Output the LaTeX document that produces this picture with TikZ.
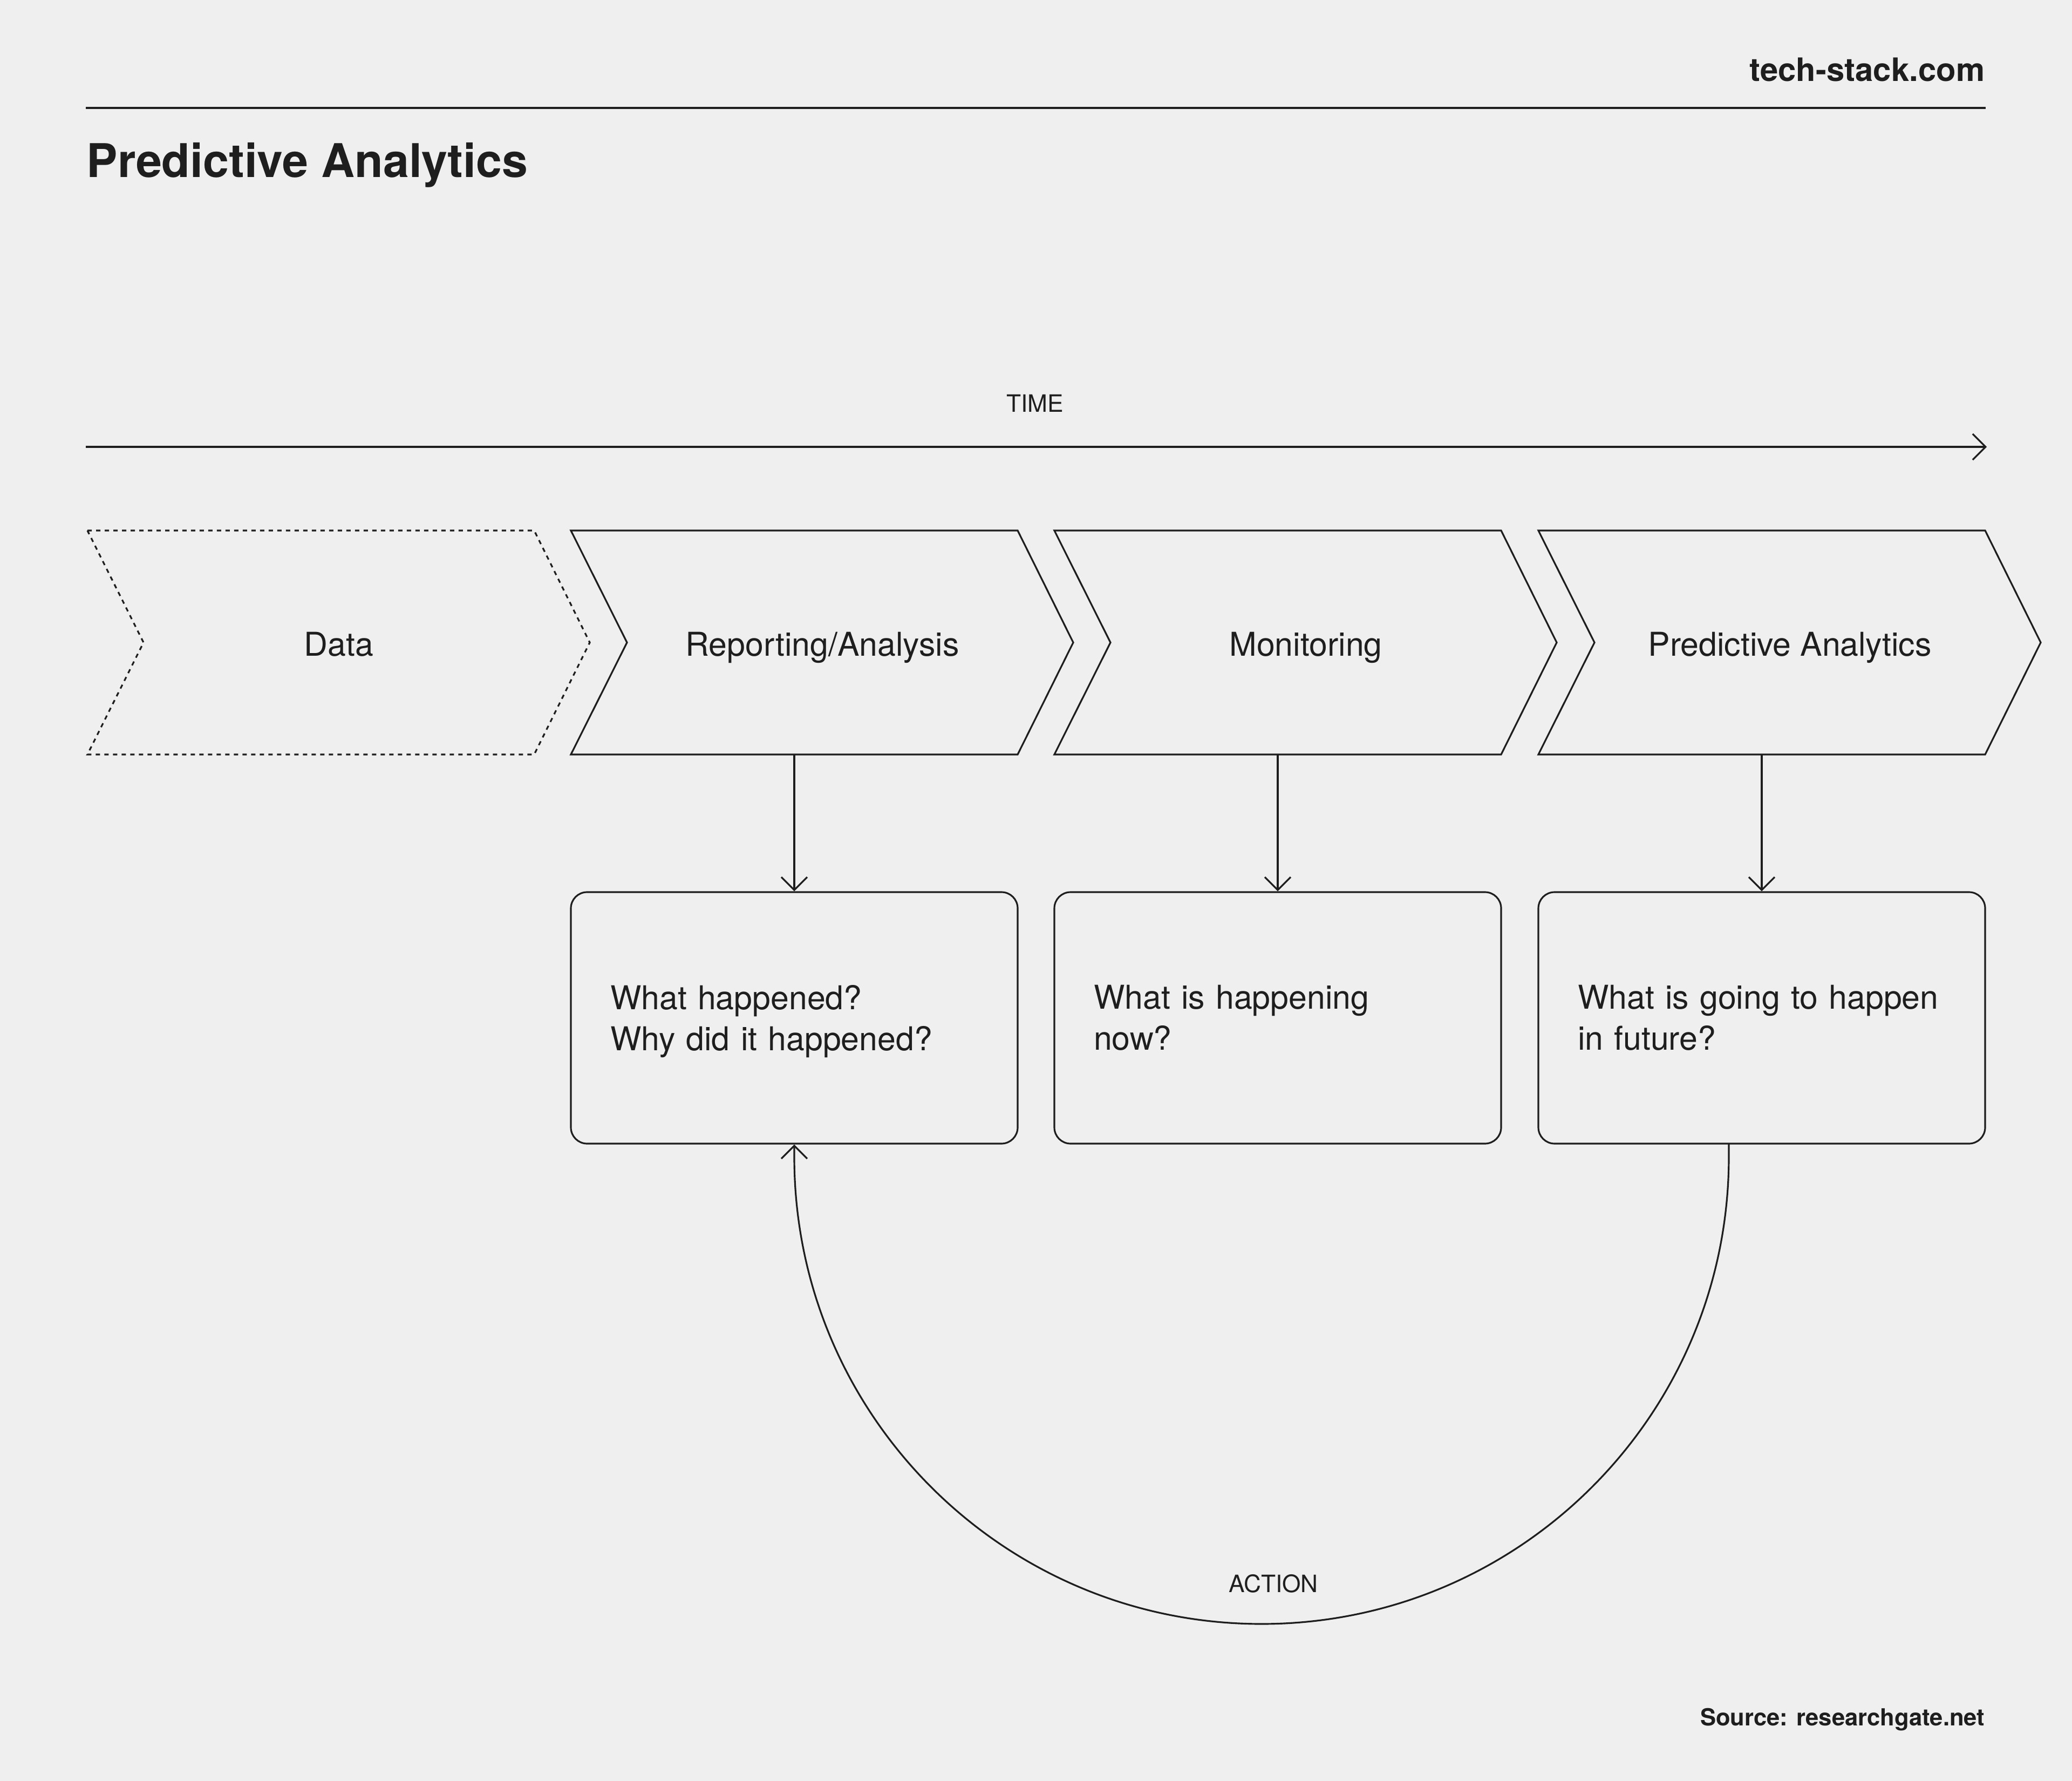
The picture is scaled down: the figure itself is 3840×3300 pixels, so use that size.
\documentclass[tikz,border=0pt]{standalone}
\usepackage{fontspec}
\setmainfont{TeX Gyre Heros}
\usetikzlibrary{arrows.meta}

\definecolor{ink}{RGB}{30,30,30}
\definecolor{paper}{RGB}{239,239,239}

\begin{document}
\begin{tikzpicture}[
    x=0.1mm,
    y=-0.1mm,
    every node/.style={text=ink, inner sep=0pt},
    >={Straight Barb[length=2.4mm,width=4.8mm]},
    rule/.style={draw=ink, line width=1.1pt},
    chev/.style={draw=ink, line width=0.9pt, line join=miter},
    datachev/.style={chev, dash pattern=on 0.8mm off 0.8mm},
    stagelabel/.style={font=\fontsize{17.3}{21.6}\selectfont, anchor=base},
    qbox/.style={draw=ink, line width=0.9pt, rounded corners=3mm,
      minimum width=82.8mm, minimum height=46.6mm, text width=68.2mm,
      inner xsep=7.3mm, align=left, font=\fontsize{17.3}{21.6}\selectfont},
    flow/.style={->, draw=ink, line width=0.9pt},
    tag/.style={font=\fontsize{12.6}{15}\selectfont, anchor=base}
  ]
    \fill[paper] (0,0) rectangle (3840,3300);
    \useasboundingbox (0,0) rectangle (3840,3300);

    % header
    \node[font=\fontsize{17}{20}\selectfont\bfseries, anchor=base east] (site) at (3679,151) {tech-stack.com};
    \coordinate (r0) at (159,200);
    \coordinate (r1) at (3680,200);
    \draw[rule] (r0) -- (r1);
    \node[font=\fontsize{24.5}{28}\selectfont\bfseries, anchor=base west] (title) at (160,329) {Predictive Analytics};

    % time axis
    \node[tag] (time) at (1918,764) {TIME};
    \coordinate (t0) at (159,828);
    \coordinate (t1) at (3682,828);
    \draw[flow] (t0) -- (t1);

    % stages
    \draw[datachev] (162,983) -- ++(828,0) -- ++(103,207.5) -- ++(-103,207.5)
      -- ++(-828,0) -- ++(104,-207.5) -- cycle;
    \node[stagelabel] (s1) at (628,1215) {Data};

    \foreach \l/\n/\t in {1058/s2/{Reporting/Analysis},1954/s3/Monitoring,2851/s4/{Predictive Analytics}} {
      \draw[chev] (\l,983) -- ++(828,0) -- ++(103,207.5) -- ++(-103,207.5)
        -- ++(-828,0) -- ++(104,-207.5) -- cycle;
      \node[stagelabel] (\n) at (\l+466,1215) {\t};
      \coordinate (\n b) at (\l+414,1398);
    }

    % questions
    \node[qbox] (q2) at (1472,1886) {What happened?\\\smash{Why did it happened?}};
    \node[qbox] (q3) at (2368,1886) {What is happening\\now?};
    \node[qbox] (q4) at (3265,1886) {What is going to happen\\in future?};

    \draw[flow] (s2b) -- (q2.north);
    \draw[flow] (s3b) -- (q3.north);
    \draw[flow] (s4b) -- (q4.north);

    % action loop
    \coordinate (a0) at (3204,2119);
    \draw[flow] (a0) -- ++(0,24) arc[start angle=0, end angle=180, radius=866] -- (q2.south);
    \node[tag] (action) at (2360,2950) {ACTION};

    \node[font=\fontsize{12.4}{15}\selectfont\bfseries, anchor=base east] (src) at (3679,3197) {Source: researchgate.net};
  \end{tikzpicture}
\end{document}
